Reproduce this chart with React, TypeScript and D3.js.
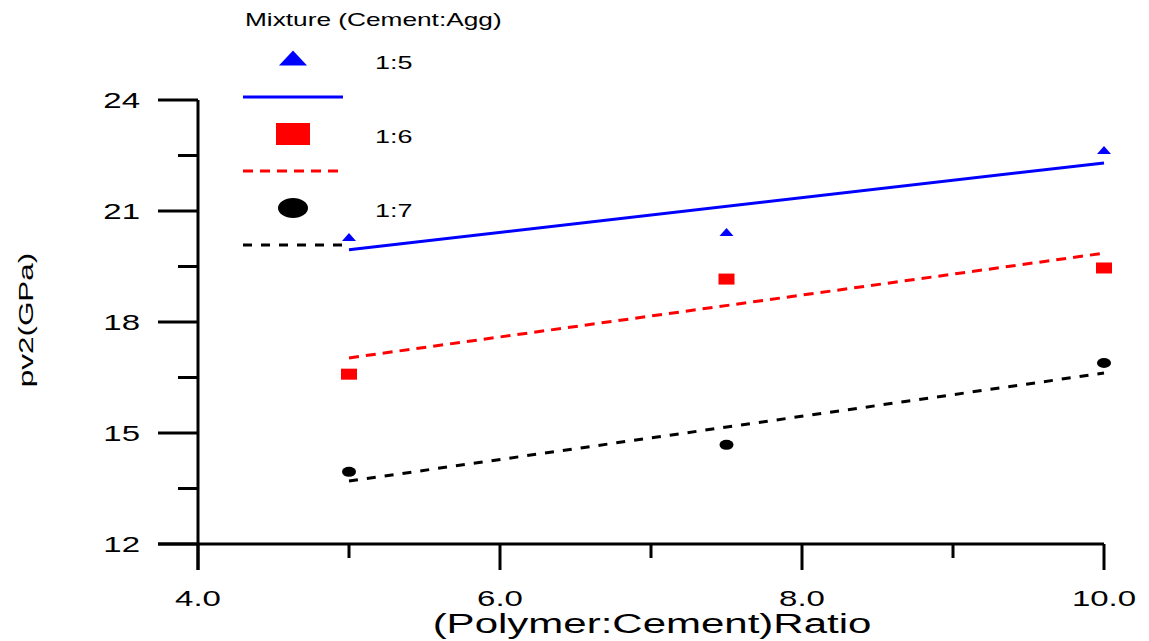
import React, { useRef, useEffect } from "react";
import * as d3 from "d3";

// values
const ratios = [5, 7.5, 10];
const mixes = ["1:5", "1:6", "1:7"];
const mix15 = [20.3, 20.43, 22.65];
const mix16 = [16.59, 19.16, 19.46];
const mix17 = [13.95, 14.68, 16.89];
// fitted lines, value at x = 5 and x = 10
const fitX = [5, 10];
const fit15 = [19.95, 22.3];
const fit16 = [17.03, 19.86];
const fit17 = [13.7, 16.62];
const xTicks = [4, 6, 8, 10];
const xMinor = [5, 7, 9];
const yTicks = [12, 15, 18, 21, 24];
const yMinor = [13.5, 16.5, 19.5, 22.5];

const App = () => {
  const svgRef = useRef(null);

  useEffect(() => {
    const svg = d3.select(svgRef.current);
    svg.selectAll("*").remove();
    const font = "'Liberation Sans', Arial, sans-serif";
    const sx = 1.5; // the original text is drawn wide

    const x = d3.scaleLinear().domain([4, 10]).range([198, 1104]);
    const y = d3.scaleLinear().domain([12, 24]).range([544, 100]);

    // wide text helper
    const label = (g, tx, ty, str, size, anchor, rot = 0) =>
      g.append("text")
        .attr("transform", `translate(${tx},${ty}) rotate(${rot}) scale(${sx},1)`)
        .attr("text-anchor", anchor)
        .attr("font-family", font)
        .attr("font-size", size)
        .text(str);

    // axes drawn by hand to get the long outside ticks
    const ax = svg.append("g").attr("stroke", "#000").attr("stroke-width", 3);
    ax.append("line").attr("x1", x(4)).attr("x2", x(4)).attr("y1", y(24)).attr("y2", y(12) + 26);
    ax.append("line").attr("x1", x(4) - 40).attr("x2", x(10)).attr("y1", y(12)).attr("y2", y(12));
    yTicks.forEach((t) => {
      ax.append("line").attr("x1", x(4) - 40).attr("x2", x(4)).attr("y1", y(t)).attr("y2", y(t));
    });
    yMinor.forEach((t) => {
      ax.append("line").attr("x1", x(4) - 20).attr("x2", x(4)).attr("y1", y(t)).attr("y2", y(t));
    });
    xTicks.forEach((t) => {
      ax.append("line").attr("x1", x(t)).attr("x2", x(t)).attr("y1", y(12)).attr("y2", y(12) + 26);
    });
    xMinor.forEach((t) => {
      ax.append("line").attr("x1", x(t)).attr("x2", x(t)).attr("y1", y(12)).attr("y2", y(12) + 14);
    });

    const tl = svg.append("g");
    yTicks.forEach((t) => label(tl, 140, y(t) + 8, t, 22, "end"));
    xTicks.forEach((t) => label(tl, x(t), 606, d3.format(".1f")(t), 22, "middle"));

    label(svg, 652, 633, "(Polymer:Cement)Ratio", 28, "middle");
    label(svg, 33, 320, "pv2(GPa)", 21, "middle", -90);

    const series = [
      { name: mixes[0], vals: mix15, fit: fit15, color: "#0000ff", dash: null, shape: "tri" },
      { name: mixes[1], vals: mix16, fit: fit16, color: "#ff0000", dash: "10,7", shape: "sq" },
      { name: mixes[2], vals: mix17, fit: fit17, color: "#000000", dash: "9,9", shape: "dot" },
    ];

    const line = d3.line<number>().x((d, i) => x(fitX[i])).y((d) => y(d));

    const marker = (g, shape, cx, cy, w, h, color) => {
      if (shape === "tri") {
        g.append("path")
          .attr("d", `M${cx - w / 2},${cy + h / 2}L${cx + w / 2},${cy + h / 2}L${cx},${cy - h / 2}Z`)
          .attr("fill", color);
      } else if (shape === "sq") {
        g.append("rect").attr("x", cx - w / 2).attr("y", cy - h / 2)
          .attr("width", w).attr("height", h).attr("fill", color);
      } else {
        g.append("ellipse").attr("cx", cx).attr("cy", cy)
          .attr("rx", w / 2).attr("ry", h / 2).attr("fill", color);
      }
    };

    const plot = svg.append("g");
    series.forEach((s) => {
      plot.append("path").attr("d", line(s.fit)).attr("fill", "none")
        .attr("stroke", s.color).attr("stroke-width", 3)
        .attr("stroke-dasharray", s.dash);
      s.vals.forEach((v, i) => {
        const w = s.shape === "tri" ? 14 : s.shape === "sq" ? 16 : 14;
        const h = s.shape === "tri" ? 8 : s.shape === "sq" ? 11 : 10;
        marker(plot, s.shape, x(ratios[i]), y(v), w, h, s.color);
      });
    });

    // legend
    const lg = svg.append("g");
    label(lg, 245, 26, "Mixture (Cement:Agg)", 17.5, "start");
    series.forEach((s, i) => {
      const top = 60 + i * 74;
      const w = s.shape === "tri" ? 28 : s.shape === "sq" ? 34 : 30;
      const h = s.shape === "tri" ? 15 : s.shape === "sq" ? 22 : 20;
      marker(lg, s.shape, 293, top - (s.shape === "tri" ? 2 : 0), w, h, s.color);
      label(lg, 375, top + 9, s.name, 18, "start");
      lg.append("line").attr("x1", 243).attr("x2", 343)
        .attr("y1", top + 37).attr("y2", top + 37)
        .attr("stroke", s.color).attr("stroke-width", 3)
        .attr("stroke-dasharray", s.dash);
    });
  }, []);

  return (
    <svg ref={svgRef} width={1149} height={641}
      style={{ position: "absolute", left: 0, top: 0, background: "#fff" }} />
  );
};

export default App;
